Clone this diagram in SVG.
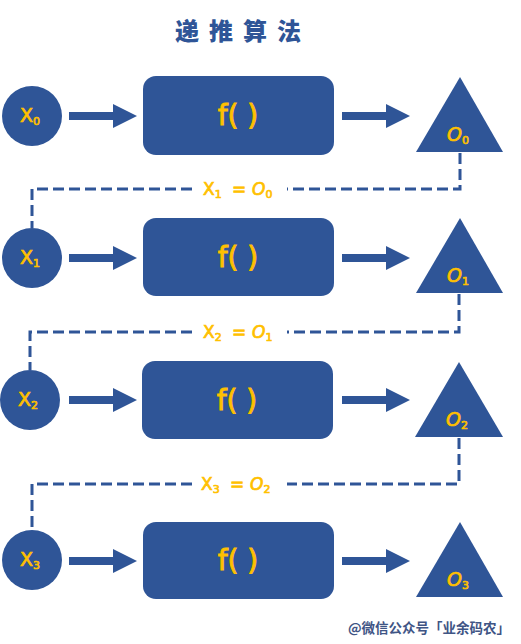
<svg xmlns="http://www.w3.org/2000/svg" width="521" height="644" viewBox="0 0 521 644">
<style>
.shape{fill:#2f5597}
.dash{fill:none;stroke:#2f5597;stroke-width:3;stroke-dasharray:11 5}
.t{font-family:"DejaVu Sans","Verdana",sans-serif;fill:#ffc000;stroke:#ffc000;stroke-width:0.7}
.sub{font-size:11px}
.f{font-size:28px;stroke-width:0.9}
.x{font-size:19px}
.o{font-size:19px;font-style:italic}
.lab{font-size:17px}
.title{font-family:"Noto Sans CJK SC",sans-serif;font-weight:900;font-size:24px;fill:#2f5597;letter-spacing:10px}
.wm{font-family:"Noto Sans CJK SC",sans-serif;font-weight:700;font-size:13.5px;fill:#3f5585}
</style>
<defs>
<g id="arrow"><path d="M0,-4 H44 V-12 L68,0 L44,12 V4 H0 Z"/></g>
</defs>
<rect width="521" height="644" fill="#ffffff"/>
<text class="title" x="243" y="40" text-anchor="middle">递推算法</text>

<g id="connectors">
<g class="shape">
<use href="#arrow" x="69" y="116"/>
<use href="#arrow" x="342" y="116"/>
<use href="#arrow" x="69" y="258"/>
<use href="#arrow" x="342" y="258"/>
<use href="#arrow" x="69" y="400"/>
<use href="#arrow" x="342" y="400"/>
<use href="#arrow" x="69" y="561"/>
<use href="#arrow" x="342" y="561"/>
</g>
<path class="dash" d="M460,153 V189 H287"/>
<path class="dash" d="M192,189 H32 V228"/>
<path class="dash" d="M459,294 V332 H287"/>
<path class="dash" d="M192,332 H30 V370"/>
<path class="dash" d="M459,438 V484 H287"/>
<path class="dash" d="M192,484 H32 V530"/>
<g class="t lab">
<text x="203" y="195">X<tspan class="sub" dy="3">1</tspan></text>
<text x="232" y="195">=</text>
<text x="252" y="195" font-style="italic">O<tspan class="sub" dy="3" font-style="normal">0</tspan></text>
<text x="203" y="338">X<tspan class="sub" dy="3">2</tspan></text>
<text x="232" y="338">=</text>
<text x="252" y="338" font-style="italic">O<tspan class="sub" dy="3" font-style="normal">1</tspan></text>
<text x="201" y="490">X<tspan class="sub" dy="3">3</tspan></text>
<text x="230" y="490">=</text>
<text x="250" y="490" font-style="italic">O<tspan class="sub" dy="3" font-style="normal">2</tspan></text>
</g>
</g>

<g id="x0"><circle class="shape" cx="32" cy="116" r="30"/><text class="t x" x="20" y="122">X<tspan class="sub" dy="3">0</tspan></text></g>
<g id="f0"><rect class="shape" x="143" y="76" width="191" height="79" rx="13"/><text class="t f" x="238" y="125" text-anchor="middle">f( )</text></g>
<g id="o0"><polygon class="shape" points="460,77 416,152 503,152"/><text class="t o" x="447" y="141">O<tspan class="sub" dy="3" font-style="normal">0</tspan></text></g>

<g id="x1"><circle class="shape" cx="32" cy="258" r="30"/><text class="t x" x="20" y="264">X<tspan class="sub" dy="3">1</tspan></text></g>
<g id="f1"><rect class="shape" x="143" y="218" width="191" height="78" rx="13"/><text class="t f" x="238" y="267" text-anchor="middle">f( )</text></g>
<g id="o1"><polygon class="shape" points="460,218 416,293 503,293"/><text class="t o" x="447" y="282">O<tspan class="sub" dy="3" font-style="normal">1</tspan></text></g>

<g id="x2"><circle class="shape" cx="30" cy="400" r="30"/><text class="t x" x="18" y="406">X<tspan class="sub" dy="3">2</tspan></text></g>
<g id="f2"><rect class="shape" x="142" y="361" width="191" height="78" rx="13"/><text class="t f" x="237" y="410" text-anchor="middle">f( )</text></g>
<g id="o2"><polygon class="shape" points="459,362 415,437 503,437"/><text class="t o" x="446" y="426">O<tspan class="sub" dy="3" font-style="normal">2</tspan></text></g>

<g id="x3"><circle class="shape" cx="32" cy="560" r="30"/><text class="t x" x="20" y="566">X<tspan class="sub" dy="3">3</tspan></text></g>
<g id="f3"><rect class="shape" x="143" y="522" width="191" height="77" rx="13"/><text class="t f" x="238" y="570" text-anchor="middle">f( )</text></g>
<g id="o3"><polygon class="shape" points="460,522 416,597 503,597"/><text class="t o" x="447" y="586">O<tspan class="sub" dy="3" font-style="normal">3</tspan></text></g>

<text class="wm" x="510" y="633" text-anchor="end">@微信公众号「业余码农」</text>
</svg>
